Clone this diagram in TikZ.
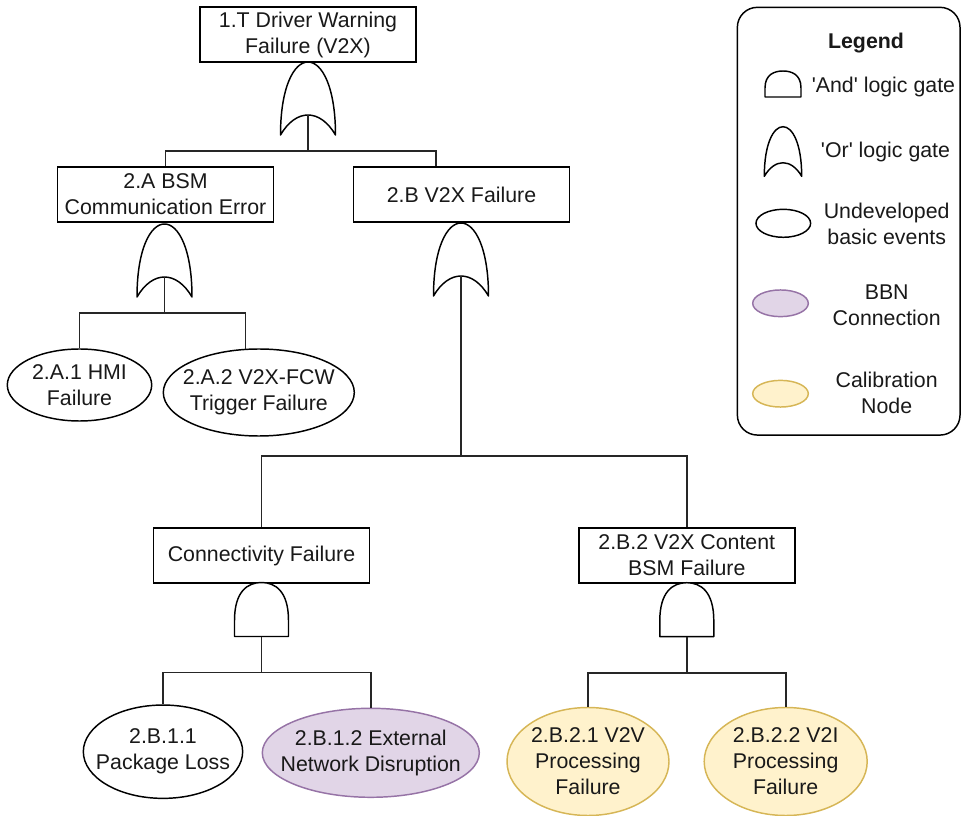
\documentclass[tikz,border=0pt]{standalone}
\usepackage{fontspec}
\setmainfont{Liberation Sans}[Ligatures=TeXOff]
\usetikzlibrary{shapes.geometric}
\definecolor{bbnfill}{HTML}{E1D5E7}
\definecolor{bbnline}{HTML}{9673A6}
\definecolor{calfill}{HTML}{FFF2CC}
\definecolor{calline}{HTML}{D6B656}
\tikzset{
  txt/.style={font=\fontsize{16}{19.5}\selectfont, align=center, text=black!90},
  event/.style={txt, draw=black, line width=1.3pt, fill=white, inner sep=0pt,
    minimum width=162pt, minimum height=41.25pt},
  basic/.style={ellipse, draw=black, line width=1.1pt, fill=white, inner sep=0pt},
  bbn/.style={basic, draw=bbnline, fill=bbnfill},
  calib/.style={basic, draw=calline, fill=calfill},
  caption/.style={label={[txt, inner sep=0pt]center:{#1}}},
  wire/.style={draw=black!85, line width=1.3pt},
  gateline/.style={draw=black, line width=1.1pt, fill=white, line join=round},
  % OR gate: top point at the origin, output at the inner arc apex
  orgate/.pic={
    \path[gateline] (-27.5,73) .. controls (-27.5,25) and (-14,0) .. (0,0)
      .. controls (14,0) and (27.5,25) .. (27.5,73)
      .. controls (20,60) and (10,53) .. (0,53)
      .. controls (-10,53) and (-20,60) .. (-27.5,73) -- cycle;
    \coordinate (-top) at (0,0);
    \coordinate (-out) at (0,53);
  },
  % AND gate: top point at the origin, output at the flat base
  andgate/.pic={
    \path[gateline] (-27,54) -- (-27,38) .. controls (-27,9) and (-14,0) .. (0,0)
      .. controls (14,0) and (27,9) .. (27,38) -- (27,54) -- cycle;
    \coordinate (-top) at (0,0);
    \coordinate (-out) at (0,54);
  },
  % small AND symbol for the key
  andicon/.pic={
    \path[gateline] (-18,26) -- (-18,17) .. controls (-18,3) and (-8,0) .. (0,0)
      .. controls (8,0) and (18,3) .. (18,17) -- (18,26) -- cycle;
  },
}
\begin{document}
\begin{tikzpicture}[x=0.75pt,y=-0.75pt]
\useasboundingbox (0,0) rectangle (961,816);

% intermediate events
\node[event] (T) at (308,34.5) {1.T Driver Warning\\Failure (V2X)};
\node[event] (A) at (165.5,194.5) {2.A BSM\\Communication Error};
\node[event] (B) at (461.5,194.5) {2.B V2X Failure};
\node[event] (C) at (261.5,555.5) {Connectivity Failure};
\node[event] (D) at (686.8,555.5) {2.B.2 V2X Content\\BSM Failure};

% basic events
\node[basic, minimum width=108.3pt, minimum height=54pt,
  caption={2.A.1 HMI\\Failure}] (A1) at (79.5,385) {};
\node[basic, minimum width=143.25pt, minimum height=65.25pt,
  caption={2.A.2 V2X-FCW\\Trigger Failure}] (A2) at (258.8,392.5) {};
\node[basic, minimum width=119.5pt, minimum height=70pt,
  caption={2.B.1.1\\Package Loss}] (E1) at (163,751.7) {};
\node[bbn, minimum width=162.75pt, minimum height=66.75pt,
  caption={2.B.1.2 External\\Network Disruption}] (E2) at (370.8,752.8) {};
\node[calib, minimum width=121.5pt, minimum height=81pt,
  caption={2.B.2.1 V2V\\Processing\\Failure}] (E3) at (588,761.5) {};
\node[calib, minimum width=122.25pt, minimum height=81pt,
  caption={2.B.2.2 V2I\\Processing\\Failure}] (E4) at (785.7,761.5) {};

% gates
\pic (g1) at (308,62) {orgate};
\pic (gA) at (164.5,224) {orgate};
\pic (gB) at (461,223) {orgate};
\pic (gC) at (261.5,582.5) {andgate};
\pic (gD) at (686.8,582.7) {andgate};

% connectors
\draw[wire] (g1-out) -- ++(0,36) -| (A.north);
\draw[wire] (g1-out) -- ++(0,36) -| ([xshift=-19pt]B.north);
\draw[wire] (gA-out) -- ++(0,36) -| (A1.north);
\draw[wire] (gA-out) -- ++(0,36) -| (A2.107);
\draw[wire] (gB-out) -- ++(0,180) -| (C.north);
\draw[wire] (gB-out) -- ++(0,180) -| (D.north);
\draw[wire] (gC-out) -- ++(0,36) -| (E1.north);
\draw[wire] (gC-out) -- ++(0,36) -| (E2.north);
\draw[wire] (gD-out) -- ++(0,36) -| (E3.north);
\draw[wire] (gD-out) -- ++(0,36) -| (E4.north);

% legend
\node[draw=black, line width=1.1pt, rounded corners=15pt, minimum width=167pt,
  minimum height=320.8pt, inner sep=0pt] (legend) at (848.7,221.2) {};
\node[txt, font=\fontsize{16}{19.5}\selectfont\bfseries] (ltitle) at (866,43) {Legend};
\pic (lg1) at (783,71) {andicon};
\node[txt, anchor=west, inner sep=0pt] (lt1) at (811.5,87) {'And' logic gate};
\pic[scale=0.68] (lg2) at (783,126.7) {orgate};
\node[txt, anchor=west, inner sep=0pt] (lt2) at (820.7,152) {'Or' logic gate};
\node[basic, minimum width=41pt, minimum height=21pt] (le1) at (783.3,223.3) {};
\node[txt] (lt3) at (886.7,223.5) {Undeveloped\\basic events};
\node[bbn, minimum width=41.7pt, minimum height=20pt] (le2) at (780.5,303.3) {};
\node[txt] (lt4) at (886.7,305) {BBN\\Connection};
\node[calib, minimum width=41.7pt, minimum height=20pt] (le3) at (780.5,393.7) {};
\node[txt] (lt5) at (886.7,393.3) {Calibration\\Node};
\end{tikzpicture}
\end{document}
